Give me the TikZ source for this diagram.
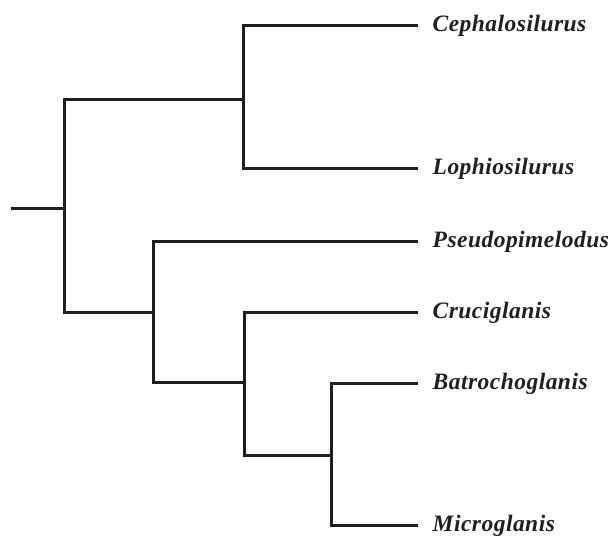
\documentclass[tikz,border=0pt]{standalone}
\usepackage{fontspec}
\setmainfont{Liberation Serif}
\begin{document}
\begin{tikzpicture}[x=1pt,y=1pt,
  branch/.style={line width=3pt,draw=black!88,line join=miter,line cap=butt},
  leaf/.style={anchor=west,inner xsep=14.5pt,inner ysep=0pt,text height=12pt,text depth=0pt,
    font=\fontsize{23.5}{26}\selectfont\bfseries\itshape\addfontfeatures{LetterSpace=2},text=black!88}]
\useasboundingbox (0,0) rectangle (612,-535);
% internal nodes
\coordinate (r0) at (11,-208);
\coordinate (n1) at (64,-208);
\coordinate (n2) at (243,-99);
\coordinate (n3) at (153,-312);
\coordinate (n4) at (244,-382);
\coordinate (n5) at (331,-455);
% leaves
\node[leaf] (ceph)  at (418,-26)  {Cephalosilurus};
\node[leaf] (loph)  at (418,-168) {Lophiosilurus};
\node[leaf] (pseu)  at (418,-241) {Pseudopimelodus};
\node[leaf] (cruc)  at (418,-312) {Cruciglanis};
\node[leaf] (batr)  at (418,-383) {Batrochoglanis};
\node[leaf] (micr)  at (418,-525) {Microglanis};
% branches
\draw[branch] (r0) -- (n1);
\draw[branch] (n2) -| (n1) |- (n3);
\draw[branch] (ceph.west) -| (n2) |- (loph.west);
\draw[branch] (pseu.west) -| (n3) |- (n4);
\draw[branch] (cruc.west) -| (n4) |- (n5);
\draw[branch] (batr.west) -| (n5) |- (micr.west);
\end{tikzpicture}
\end{document}
